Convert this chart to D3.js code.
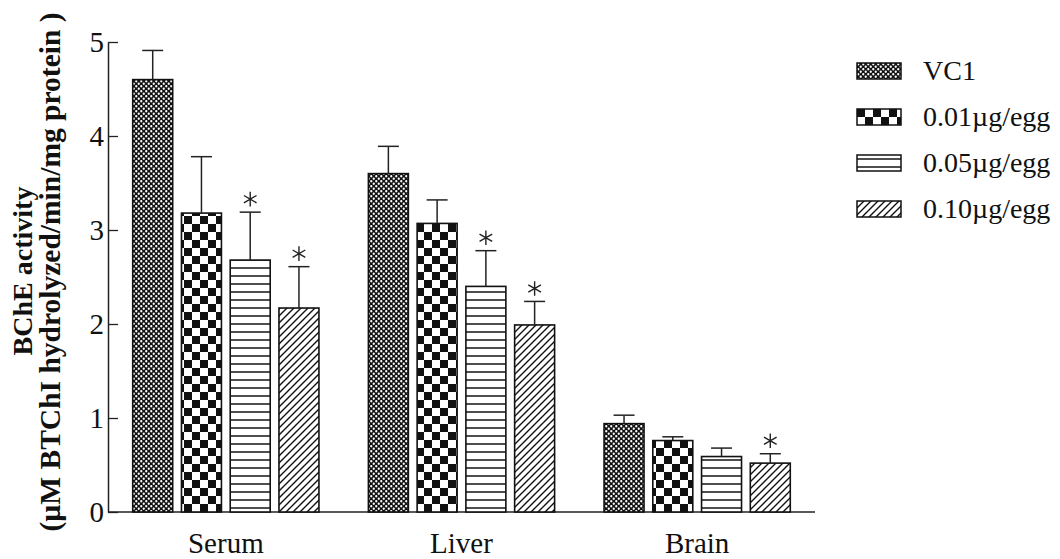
<!DOCTYPE html>
<html>
<head>
<meta charset="utf-8">
<script src="https://cdn.jsdelivr.net/npm/d3@7"></script>
<style>
  html, body { margin: 0; padding: 0; background: #fff; }
  svg { display: block; }
  text { font-family: "Liberation Serif", "Times New Roman", serif; fill: #111; }
</style>
</head>
<body>
<svg id="chart" width="1060" height="559"></svg>
<script>
// BChE activity per tissue and dose group
const tissues = ["Serum", "Liver", "Brain"];
const groups = ["VC1", "0.01\u00b5g/egg", "0.05\u00b5g/egg", "0.10\u00b5g/egg"];
const meanSerum = [4.60, 3.18, 2.68, 2.17];
const meanLiver = [3.60, 3.07, 2.40, 1.99];
const meanBrain = [0.94, 0.76, 0.59, 0.52];
const errSerum = [0.31, 0.60, 0.51, 0.44];
const errLiver = [0.29, 0.25, 0.38, 0.25];
const errBrain = [0.09, 0.04, 0.09, 0.10];
const sigSerum = [false, false, true, true];
const sigLiver = [false, false, true, true];
const sigBrain = [false, false, false, true];
const yTicks = [0, 1, 2, 3, 4, 5];

const means = [meanSerum, meanLiver, meanBrain];
const errs = [errSerum, errLiver, errBrain];
const sigs = [sigSerum, sigLiver, sigBrain];

const rows = [];
tissues.forEach((t, i) => groups.forEach((g, j) => {
  rows.push({ tissue: t, group: g, gi: j, value: means[i][j], err: errs[i][j], sig: sigs[i][j] });
}));

const svg = d3.select("#chart");
const defs = svg.append("defs");

// fill patterns, one per dose group
const pats = ["p-fine", "p-check", "p-hline", "p-diag"];

const fine = defs.append("pattern").attr("id", "p-fine")
  .attr("patternUnits", "userSpaceOnUse").attr("width", 5).attr("height", 5);
fine.append("rect").attr("width", 5).attr("height", 5).attr("fill", "#111");
fine.append("circle").attr("cx", 1.25).attr("cy", 1.25).attr("r", 1.15).attr("fill", "#fff");
fine.append("circle").attr("cx", 3.75).attr("cy", 3.75).attr("r", 1.15).attr("fill", "#fff");

const check = defs.append("pattern").attr("id", "p-check")
  .attr("patternUnits", "userSpaceOnUse").attr("width", 16).attr("height", 16);
check.append("rect").attr("width", 16).attr("height", 16).attr("fill", "#fff");
check.append("rect").attr("width", 8).attr("height", 8).attr("fill", "#111");
check.append("rect").attr("x", 8).attr("y", 8).attr("width", 8).attr("height", 8).attr("fill", "#111");

const hline = defs.append("pattern").attr("id", "p-hline")
  .attr("patternUnits", "userSpaceOnUse").attr("width", 8).attr("height", 8);
hline.append("rect").attr("width", 8).attr("height", 8).attr("fill", "#fff");
hline.append("line").attr("x1", 0).attr("x2", 8).attr("y1", 4).attr("y2", 4)
  .attr("stroke", "#222").attr("stroke-width", 1.6);

const diag = defs.append("pattern").attr("id", "p-diag")
  .attr("patternUnits", "userSpaceOnUse").attr("width", 7).attr("height", 7);
diag.append("rect").attr("width", 7).attr("height", 7).attr("fill", "#fff");
diag.append("path").attr("d", "M0,7 L7,0 M-1,1 L1,-1 M6,8 L8,6")
  .attr("stroke", "#111").attr("stroke-width", 1.4);

// scales
const x0 = d3.scaleBand().domain(tissues).range([108, 815]).paddingInner(0).paddingOuter(0);
const innerW = 195;
const x1 = d3.scaleBand().domain(d3.range(groups.length)).range([0, innerW]).paddingInner(0.18).paddingOuter(0.09);
const y = d3.scaleLinear().domain([0, 5]).range([512, 42]);

const groupLeft = t => x0(t) + (x0.bandwidth() - innerW) / 2;

// y axis with inward ticks
const yAxis = svg.append("g").attr("transform", "translate(108,0)")
  .call(d3.axisLeft(y).tickValues(yTicks).tickFormat(d3.format("d"))
    .tickSizeInner(-10).tickSizeOuter(0).tickPadding(4));
yAxis.select(".domain").attr("stroke", "#222").attr("stroke-width", 1.5);
yAxis.selectAll(".tick line").attr("stroke", "#222").attr("stroke-width", 1.3);
yAxis.selectAll(".tick text").attr("font-size", 29).attr("fill", "#111")
  .attr("font-family", "Liberation Serif, serif");

// baseline
svg.append("line").attr("x1", 108).attr("x2", 815).attr("y1", y(0)).attr("y2", y(0))
  .attr("stroke", "#222").attr("stroke-width", 1.5);

// bars
svg.append("g").selectAll("rect").data(rows).join("rect")
  .attr("x", d => groupLeft(d.tissue) + x1(d.gi))
  .attr("y", d => y(d.value))
  .attr("width", x1.bandwidth())
  .attr("height", d => y(0) - y(d.value))
  .attr("fill", d => `url(#${pats[d.gi]})`)
  .attr("stroke", "#111").attr("stroke-width", 1.6);

// upper error bars
const eb = svg.append("g").attr("stroke", "#222").attr("stroke-width", 1.5);
rows.forEach(d => {
  const cx = groupLeft(d.tissue) + x1(d.gi) + x1.bandwidth() / 2;
  eb.append("line").attr("x1", cx).attr("x2", cx).attr("y1", y(d.value)).attr("y2", y(d.value + d.err));
  eb.append("line").attr("x1", cx - 10.5).attr("x2", cx + 10.5)
    .attr("y1", y(d.value + d.err)).attr("y2", y(d.value + d.err));
});

// significance markers
const star = d3.symbol(d3.symbolAsterisk, 150);
svg.append("g").selectAll("path").data(rows.filter(d => d.sig)).join("path")
  .attr("d", star)
  .attr("transform", d => {
    const cx = groupLeft(d.tissue) + x1(d.gi) + x1.bandwidth() / 2;
    return `translate(${cx},${y(d.value + d.err) - 13})`;
  })
  .attr("fill", "none").attr("stroke", "#222").attr("stroke-width", 1.4);

// category labels
svg.append("g").selectAll("text").data(tissues).join("text")
  .attr("x", t => x0(t) + x0.bandwidth() / 2)
  .attr("y", 553)
  .attr("text-anchor", "middle")
  .attr("font-size", 29)
  .text(t => t);

// y axis title
svg.append("text")
  .attr("transform", "translate(32,271) rotate(-90)")
  .attr("text-anchor", "middle").attr("font-weight", "bold").attr("font-size", 28)
  .text("BChE activity");
svg.append("text")
  .attr("transform", "translate(60,272) rotate(-90)")
  .attr("text-anchor", "middle").attr("font-weight", "bold").attr("font-size", 29.5)
  .text("(\u00b5M BTChI hydrolyzed/min/mg protein )");

// legend
const lg = svg.append("g").attr("transform", "translate(857,63)");
groups.forEach((g, i) => {
  const row = lg.append("g").attr("transform", `translate(0,${i * 46})`);
  row.append("rect").attr("width", 44).attr("height", 16)
    .attr("fill", `url(#${pats[i]})`).attr("stroke", "#111").attr("stroke-width", 1.5);
  row.append("text").attr("x", 66).attr("y", 17).attr("font-size", 28).text(g);
});
</script>
</body>
</html>
